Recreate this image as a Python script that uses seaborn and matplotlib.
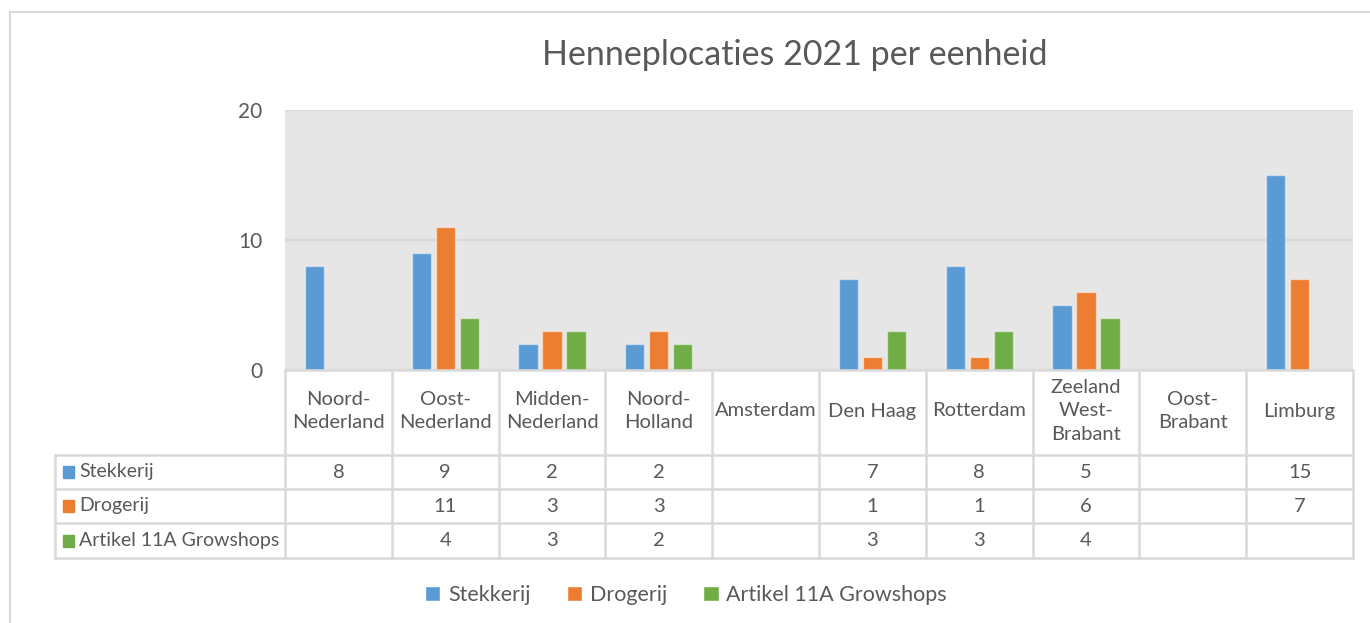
import matplotlib
matplotlib.use("Agg")
import matplotlib.pyplot as plt
import matplotlib.transforms as mtransforms
from matplotlib.lines import Line2D
from matplotlib.patches import Patch
import pandas as pd
import seaborn as sns

# data
REGIONS = ["Noord-\nNederland", "Oost-\nNederland", "Midden-\nNederland",
           "Noord-\nHolland", "Amsterdam", "Den Haag", "Rotterdam",
           "Zeeland\nWest-\nBrabant", "Oost-\nBrabant", "Limburg"]
SERIES = ["Stekkerij", "Drogerij", "Artikel 11A Growshops"]
STEKKERIJ = [8, 9, 2, 2, None, 7, 8, 5, None, 15]
DROGERIJ = [None, 11, 3, 3, None, 1, 1, 6, None, 7]
GROWSHOPS = [None, 4, 3, 2, None, 3, 3, 4, None, None]
Y_TICKS = [0, 10, 20]
TITLE = "Henneplocaties 2021 per eenheid"

COLORS = ["#5B9BD5", "#ED7D31", "#70AD47"]
TEXT_C = "#595959"
LINE_C = "#D9D9D9"
BG_C = "#E7E6E6"

W, H = 1370, 623


def fx(px):
    return px / W


def fy(py):
    return 1 - py / H


sns.set_theme(style="white")
plt.rcParams["font.family"] = ["Lato", "DejaVu Sans"]

values = {"Stekkerij": STEKKERIJ, "Drogerij": DROGERIJ,
          "Artikel 11A Growshops": GROWSHOPS}
rows = []
for s in SERIES:
    for r, v in zip(REGIONS, values[s]):
        if v is not None:
            rows.append({"region": r, "series": s, "value": v})
df = pd.DataFrame(rows)

fig = plt.figure(figsize=(W / 100, H / 100), dpi=100)
ax = fig.add_axes([fx(285), fy(370), fx(1353) - fx(285), fy(110) - fy(370)])

sns.barplot(data=df, x="region", y="value", hue="series",
            order=REGIONS, hue_order=SERIES, palette=COLORS,
            saturation=1, width=0.675, gap=0.2,
            edgecolor=(1, 1, 1, 0.45), linewidth=1.0,
            legend=False, ax=ax)

ax.set_facecolor(BG_C)
ax.set_xlim(-0.5, len(REGIONS) - 0.5)
ax.set_ylim(0, 20)
ax.set_yticks(Y_TICKS)
ax.yaxis.grid(True, color=LINE_C, lw=1.6)
ax.set_axisbelow(True)
for sp in ax.spines.values():
    sp.set_visible(False)
ax.set_xticks([])
ax.set_xlabel("")
ax.set_ylabel("")
ax.tick_params(axis="y", length=0, labelsize=15, labelcolor=TEXT_C, pad=16.5)

fig.text(fx(795), fy(55), TITLE, ha="center", va="center",
         fontsize=24.5, color=TEXT_C)

# data table under the chart
blend = mtransforms.blended_transform_factory(ax.transData, fig.transFigure)
row_y = [455, 489, 523, 558]
lw = 1.8
for i in range(len(REGIONS) + 1):
    ax.plot([i - 0.5, i - 0.5], [fy(370), fy(558)], color=LINE_C, lw=lw,
            transform=blend, clip_on=False)
fig.add_artist(Line2D([fx(55), fx(55)], [fy(455), fy(558)], color=LINE_C,
                      lw=lw))
for py in row_y:
    fig.add_artist(Line2D([fx(55), fx(1353)], [fy(py), fy(py)],
                          color=LINE_C, lw=lw))
fig.add_artist(Line2D([fx(285), fx(1353)], [fy(370), fy(370)],
                      color=LINE_C, lw=lw))

for i, r in enumerate(REGIONS):
    ax.text(i, fy(411), r, transform=blend, ha="center", va="center",
            fontsize=14.5, color=TEXT_C, linespacing=1.45)

for k, s in enumerate(SERIES):
    yc = fy((row_y[k] + row_y[k + 1]) / 2)
    fig.patches.append(plt.Rectangle((fx(63), yc - 6 / H), 11 / W, 12 / H,
                                     color=COLORS[k],
                                     transform=fig.transFigure, figure=fig))
    fig.text(fx(79), yc, s, ha="left", va="center", fontsize=14,
             color=TEXT_C)
    for i, v in enumerate(values[s]):
        if v is not None:
            ax.text(i, yc, str(v), transform=blend, ha="center",
                    va="center", fontsize=14.5, color=TEXT_C)

handles = [Patch(facecolor=c, label=s) for c, s in zip(COLORS, SERIES)]
fig.legend(handles=handles, loc="center", bbox_to_anchor=(fx(686), fy(595)),
           ncol=3, frameon=False, fontsize=15.5, labelcolor=TEXT_C,
           handlelength=0.7, handleheight=0.7, handletextpad=0.35,
           columnspacing=1.7)

# chart frame
fig.add_artist(Line2D([fx(10), fx(1370)], [fy(12), fy(12)], color=LINE_C,
                      lw=1.5))
fig.add_artist(Line2D([fx(10), fx(10)], [fy(12), fy(623)], color=LINE_C,
                      lw=1.5))

fig.savefig("out.png", dpi=100)
